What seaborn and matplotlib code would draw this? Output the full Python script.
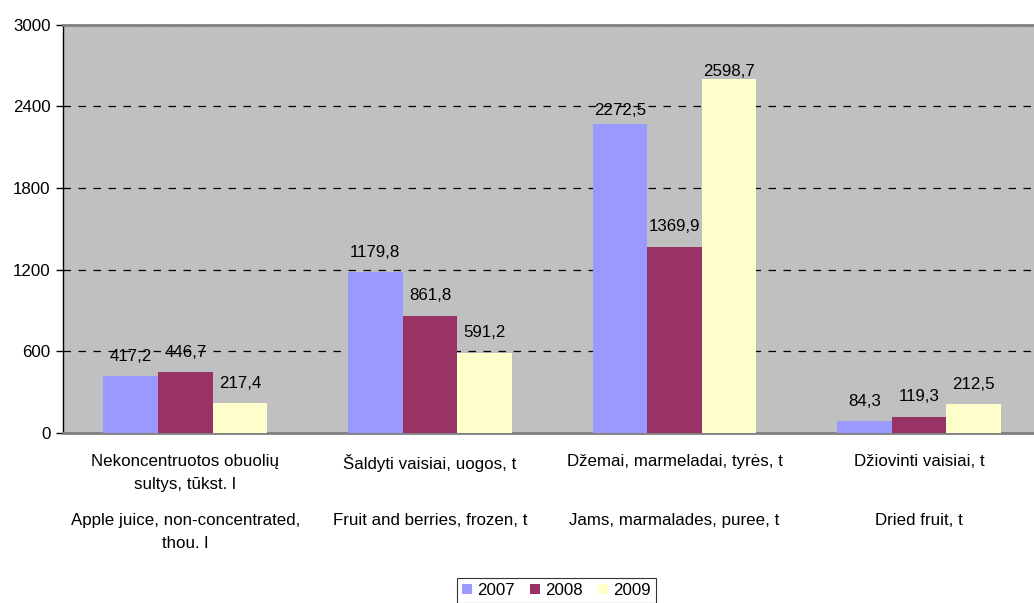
import matplotlib
matplotlib.use("Agg")
from matplotlib import pyplot as plt
import pandas as pd
import seaborn as sns

# data
categories_lt = ["Nekoncentruotos obuolių\nsultys, tūkst. l",
                 "Šaldyti vaisiai, uogos, t",
                 "Džemai, marmeladai, tyrės, t",
                 "Džiovinti vaisiai, t"]
categories_en = ["Apple juice, non-concentrated,\nthou. l",
                 "Fruit and berries, frozen, t",
                 "Jams, marmalades, puree, t",
                 "Dried fruit, t"]
years = ["2007", "2008", "2009"]
v2007 = [417.2, 1179.8, 2272.5, 84.3]
v2008 = [446.7, 861.8, 1369.9, 119.3]
v2009 = [217.4, 591.2, 2598.7, 212.5]
colors = ["#9999FF", "#993366", "#FFFFCC"]

df = pd.DataFrame({
    "cat": categories_lt * 3,
    "year": [y for y in years for _ in categories_lt],
    "value": v2007 + v2008 + v2009,
})

sns.set_style("white")
plt.rcParams["font.family"] = ["Liberation Sans", "DejaVu Sans"]
plt.rcParams["text.color"] = "black"
plt.rcParams["ytick.color"] = "black"
plt.rcParams["ytick.labelcolor"] = "black"
fs = 12.2

fig = plt.figure(figsize=(10.34, 6.03), dpi=100)
ax = fig.add_axes([0.061, 0.282, 0.939, 0.677])
ax.set_facecolor("#C0C0C0")

sns.barplot(data=df, x="cat", y="value", hue="year", palette=colors,
            width=0.67, gap=0, saturation=1, linewidth=0, ax=ax, zorder=3)

# data labels (the two tall ones sit closer to the bars, like in the original)
pads = [[9, 9, 4, 9], [9, 9, 9, 9], [9, 9, 0, 9]]
for cont, p in zip(ax.containers, pads):
    for bar, v, pp in zip(cont, cont.datavalues, p):
        ax.annotate(f"{v:.1f}".replace(".", ","),
                    (bar.get_x() + bar.get_width() / 2, bar.get_height()),
                    xytext=(0, pp), textcoords="offset points",
                    ha="center", va="bottom", fontsize=fs, color="black", zorder=5)

ax.set_ylim(0, 3000)
ax.set_xlim(-0.5, 3.47)
ax.set_yticks(range(0, 3001, 600))
ax.yaxis.grid(True, linestyle=(0, (6, 6)), color="black", linewidth=0.9, zorder=1)
ax.set_axisbelow(True)
ax.set_xlabel("")
ax.set_ylabel("")

ax.tick_params(axis="y", left=True, length=5, width=1, color="black", pad=4, labelsize=fs)
ax.tick_params(axis="x", bottom=False, labelbottom=False)

for s in ["top", "bottom"]:
    ax.spines[s].set_color("#808080")
    ax.spines[s].set_linewidth(2)
ax.spines["right"].set_visible(False)
ax.spines["left"].set_color("black")
ax.spines["left"].set_linewidth(1)

# category labels: lithuanian, english below
tr = ax.get_xaxis_transform()
for i, t in enumerate(categories_lt):
    ax.text(i, -0.052, t, transform=tr, ha="center", va="top", fontsize=fs, linespacing=1.65)
for i, t in enumerate(categories_en):
    ax.text(i, -0.197, t, transform=tr, ha="center", va="top", fontsize=fs, linespacing=1.65)

h, l = ax.get_legend_handles_labels()
ax.legend_.remove()
leg = fig.legend(h, l, loc="lower center", bbox_to_anchor=(0.538, -0.014), ncol=3,
                 frameon=True, fancybox=False, edgecolor="black", handlelength=0.6,
                 handleheight=0.6, handletextpad=0.3, columnspacing=0.9,
                 borderpad=0.3, fontsize=fs)
leg.get_frame().set_linewidth(0.8)

fig.savefig("out.png", dpi=100)
plt.close(fig)
